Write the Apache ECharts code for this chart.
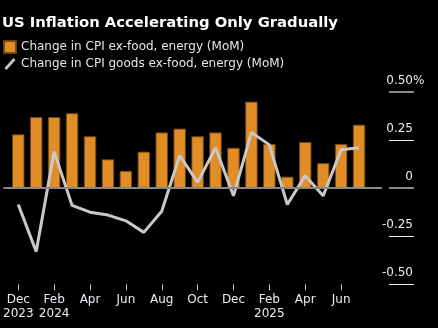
<!DOCTYPE html>
<html><head><meta charset="utf-8">
<script src="https://cdn.jsdelivr.net/npm/echarts@6/dist/echarts.min.js"></script>
<style>html,body{margin:0;padding:0;background:#000;}#c{width:438px;height:328px;}</style>
</head><body><div id="c"></div>
<script>
var months = ['Dec 2023','Jan 2024','Feb 2024','Mar 2024','Apr 2024','May 2024','Jun 2024','Jul 2024','Aug 2024','Sep 2024','Oct 2024','Nov 2024','Dec 2024','Jan 2025','Feb 2025','Mar 2025','Apr 2025','May 2025','Jun 2025','Jul 2025'];
var coreCPI = [0.28, 0.37, 0.37, 0.39, 0.27, 0.15, 0.09, 0.19, 0.29, 0.31, 0.27, 0.29, 0.21, 0.45, 0.23, 0.06, 0.24, 0.13, 0.23, 0.33];
var coreGoods = [-0.085, -0.33, 0.19, -0.09, -0.125, -0.14, -0.17, -0.23, -0.12, 0.17, 0.03, 0.21, -0.04, 0.29, 0.225, -0.085, 0.065, -0.04, 0.20, 0.21];
var xTickIdx = [0, 2, 4, 6, 8, 10, 12, 14, 16, 18];
var xTickLabels = ['Dec\n2023', 'Feb\n2024', 'Apr', 'Jun', 'Aug', 'Oct', 'Dec', 'Feb\n2025', 'Apr', 'Jun'];
var yTicks = [-0.5, -0.25, 0, 0.25, 0.5];
var yTickLabels = ['-0.50', '-0.25', '0', '0.25', '0.50'];
var yUnit = '%';
var seriesNames = ['Change in CPI ex-food, energy (MoM)', 'Change in CPI goods ex-food, energy (MoM)'];

var barData = coreCPI.map(function(v, i){ return [i, v]; });
var lineData = coreGoods.map(function(v, i){ return [i, v]; });
var font = '"DejaVu Sans", Verdana, sans-serif';
function yLab(v){
  for (var i = 0; i < yTicks.length; i++) if (Math.abs(yTicks[i] - v) < 1e-6) return yTickLabels[i];
  return '';
}

var chart = echarts.init(document.getElementById('c'), null, {renderer: 'canvas'});
chart.setOption({
  backgroundColor: '#000',
  animation: false,
  title: {
    text: 'US Inflation Accelerating Only Gradually',
    left: 2, top: 16, padding: 0,
    textStyle: {color: '#fff', fontFamily: font, fontWeight: 'bold', fontSize: 14.8}
  },
  legend: {
    orient: 'vertical', left: 3, top: 40, padding: 0, itemGap: 4, itemWidth: 12, itemHeight: 12,
    textStyle: {color: '#e6e6e6', fontFamily: font, fontSize: 12},
    data: [
      {name: seriesNames[0], icon: 'rect', itemStyle: {color: '#e08c27'}},
      {name: seriesNames[1], icon: 'path://M0,10 L9,0 L11,2 L2,12 Z', itemStyle: {color: '#c8c8c8'}}
    ]
  },
  grid: {left: 1, right: 56, top: 92, height: 192.3},
  xAxis: {
    type: 'value', min: -0.83, max: 20.28,
    axisLine: {show: true, onZero: false, lineStyle: {color: 'rgba(0,0,0,0)'}},
    splitLine: {show: false},
    axisTick: {show: true, length: 6, customValues: xTickIdx, lineStyle: {color: '#c8c8c8', width: 1}},
    axisLabel: {
      customValues: xTickIdx, margin: 9, color: '#e8ecf2', fontFamily: font, fontSize: 12, lineHeight: 14,
      formatter: function(v){ var k = xTickIdx.indexOf(Math.round(v)); return k >= 0 ? xTickLabels[k] : ''; }
    }
  },
  yAxis: [{
    type: 'value', position: 'right', offset: 7, min: -0.5, max: 0.5, interval: 0.25,
    axisLine: {show: false, onZero: false}, splitLine: {show: false},
    axisTick: {show: true, length: 25, lineStyle: {color: '#f0f0f0', width: 1}},
    axisLabel: {
      margin: 24, align: 'right', verticalAlign: 'bottom', padding: [0, 0, 5, 0],
      color: '#e8ecf2', fontFamily: font, fontSize: 12, formatter: yLab
    }
  }, {
    type: 'value', position: 'right', offset: 7, min: -0.5, max: 0.5, interval: 0.25,
    axisLine: {show: false, onZero: false}, splitLine: {show: false},
    axisTick: {show: true, length: 25, customValues: [0, 0.5], lineStyle: {color: '#888', width: 2}},
    axisLabel: {
      customValues: [0.5], margin: 24, align: 'left', verticalAlign: 'bottom', padding: [0, 0, 5, 0],
      color: '#e8ecf2', fontFamily: font, fontSize: 12, formatter: function(){ return yUnit; }
    }
  }],
  series: [{
    name: seriesNames[0], type: 'bar', data: barData, barWidth: 12.5,
    itemStyle: {color: '#e08c27', borderColor: 'rgba(110,70,15,0.9)', borderWidth: 1},
    markLine: {
      silent: true, symbol: 'none', label: {show: false},
      lineStyle: {color: '#888', width: 2, type: 'solid'},
      data: [{yAxis: 0}]
    },
    z: 2
  }, {
    name: seriesNames[1], type: 'line', data: lineData, showSymbol: false, symbol: 'none',
    lineStyle: {color: '#c8c8c8', width: 3}, itemStyle: {color: '#c8c8c8'}, z: 3
  }]
});
</script></body></html>
